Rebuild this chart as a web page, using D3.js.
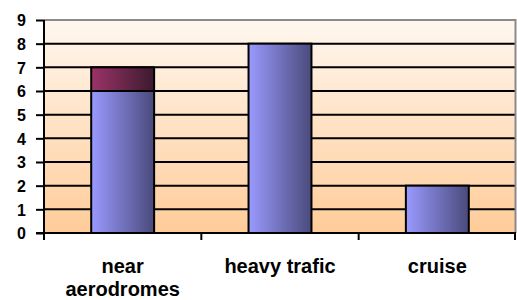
<!DOCTYPE html>
<html>
<head>
<meta charset="utf-8">
<script src="https://cdn.jsdelivr.net/npm/d3@7.9.0/dist/d3.min.js"></script>
<style>
  html, body { margin: 0; padding: 0; background: #fff; }
  svg { display: block; font-family: Arial, "Liberation Sans", sans-serif; font-weight: bold; }
</style>
</head>
<body>
<div id="chart"></div>
<script>
const categories = ['near aerodromes', 'heavy trafic', 'cruise'];
const categoryLines = [['near', 'aerodromes'], ['heavy trafic'], ['cruise']];
const seriesA = [6, 8, 2];
const seriesB = [1, 0, 0];
const yTicks = [0, 1, 2, 3, 4, 5, 6, 7, 8, 9];

const width = 517;
const height = 300;
const margin = { top: 20, right: 1, bottom: 67, left: 44 };

const svg = d3.select('#chart')
  .append('svg')
  .attr('width', width)
  .attr('height', height);

const area = {
  top: margin.top,
  bottom: height - margin.bottom,
  left: margin.left,
  right: width - margin.right,
};

const defs = svg.append('defs');

const bg = defs.append('linearGradient')
  .attr('id', 'bg').attr('x1', 0).attr('y1', 0).attr('x2', 0).attr('y2', 1);
bg.append('stop').attr('offset', '0%').attr('stop-color', '#fff7ef');
bg.append('stop').attr('offset', '100%').attr('stop-color', '#ffcc99');

function barGradient(id, from, to) {
  const g = defs.append('linearGradient')
    .attr('id', id).attr('x1', 0).attr('y1', 0).attr('x2', 1).attr('y2', 0);
  g.append('stop').attr('offset', '0%').attr('stop-color', from);
  g.append('stop').attr('offset', '100%').attr('stop-color', to);
}
barGradient('gA', '#9a9aff', '#4a4a7c');
barGradient('gB', '#9c3468', '#3c1a2e');

const x = d3.scaleBand()
  .domain(categories)
  .range([area.left, area.right])
  .padding(0);

const xBar = d3.scaleBand()
  .domain(categories)
  .range([area.left, area.right])
  .paddingInner(0.6)
  .paddingOuter(0.3);

const y = d3.scaleLinear()
  .domain([0, 9])
  .range([area.bottom, area.top]);

// plot background
svg.append('rect')
  .attr('x', area.left)
  .attr('y', area.top)
  .attr('width', area.right - area.left)
  .attr('height', area.bottom - area.top)
  .attr('fill', 'url(#bg)');

// gridlines
svg.append('g')
  .selectAll('line')
  .data(yTicks.filter((d) => d > 0 && d < 9))
  .join('line')
  .attr('x1', area.left)
  .attr('x2', area.right)
  .attr('y1', (d) => y(d))
  .attr('y2', (d) => y(d))
  .attr('stroke', '#000')
  .attr('stroke-width', 2);

// top/right border
svg.append('path')
  .attr('d', `M${area.left},${area.top}H${area.right - 0.5}V${area.bottom}`)
  .attr('fill', 'none')
  .attr('stroke', '#8a8a8a')
  .attr('stroke-width', 2);

// stacked bars
const rows = categories.map((c, i) => ({ cat: c, a: seriesA[i], b: seriesB[i] }));
const stack = d3.stack().keys(['a', 'b'])(rows);
const fills = { a: 'url(#gA)', b: 'url(#gB)' };

svg.append('g')
  .selectAll('g')
  .data(stack)
  .join('g')
  .attr('fill', (s) => fills[s.key])
  .selectAll('rect')
  .data((s) => s.filter((d) => d[1] > d[0]))
  .join('rect')
  .attr('x', (d) => xBar(d.data.cat))
  .attr('y', (d) => y(d[1]))
  .attr('width', xBar.bandwidth())
  .attr('height', (d) => y(d[0]) - y(d[1]))
  .attr('stroke', '#000')
  .attr('stroke-width', 2);

// y axis
const yAxis = svg.append('g')
  .attr('transform', `translate(${area.left},0)`)
  .call(d3.axisLeft(y).tickValues(yTicks).tickSize(8).tickPadding(10));
yAxis.select('.domain').attr('stroke', '#000').attr('stroke-width', 2)
  .attr('d', `M0,${area.top}V${area.bottom}`);
yAxis.selectAll('.tick line').attr('stroke', '#000').attr('stroke-width', 2);
yAxis.selectAll('.tick text')
  .attr('fill', '#000')
  .attr('dy', '0.36em')
  .style('font', 'bold 16px Arial, "Liberation Sans", sans-serif');

// x axis line and boundary ticks
const xAxisG = svg.append('g');
xAxisG.append('line')
  .attr('x1', area.left - 8)
  .attr('x2', area.right)
  .attr('y1', area.bottom)
  .attr('y2', area.bottom)
  .attr('stroke', '#000')
  .attr('stroke-width', 2);

const boundaries = categories.map((c) => x(c)).concat([area.right - 1]);
xAxisG.selectAll('line.tk')
  .data(boundaries)
  .join('line')
  .attr('class', 'tk')
  .attr('x1', (d) => d)
  .attr('x2', (d) => d)
  .attr('y1', area.bottom)
  .attr('y2', area.bottom + 7)
  .attr('stroke', '#000')
  .attr('stroke-width', 2);

xAxisG.selectAll('text')
  .data(categories)
  .join('text')
  .attr('x', (d) => x(d) + x.bandwidth() / 2)
  .attr('y', 273)
  .attr('text-anchor', 'middle')
  .style('font', 'bold 20px Arial, "Liberation Sans", sans-serif')
  .attr('fill', '#000')
  .selectAll('tspan')
  .data((d, i) => categoryLines[i])
  .join('tspan')
  .attr('x', function () { return d3.select(this.parentNode).attr('x'); })
  .attr('dy', (d, i) => (i === 0 ? 0 : 23))
  .text((d) => d);
</script>
</body>
</html>
